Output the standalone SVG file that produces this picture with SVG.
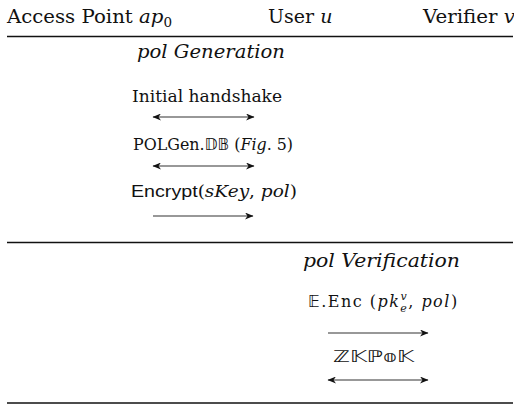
<svg xmlns="http://www.w3.org/2000/svg" width="514" height="409" viewBox="0 0 514 409">
<style>
  .hdr { font-family: "DejaVu Serif", "Liberation Serif", serif; font-size: 19px; fill: #111; }
  .sec { font-family: "DejaVu Serif", "Liberation Serif", serif; font-size: 19px; font-style: italic; fill: #111; }
  .msg { font-family: "DejaVu Serif", "Liberation Serif", serif; font-size: 16px; fill: #111; }
  .it { font-style: italic; }
  .sans { font-family: "Liberation Sans", Arial, sans-serif; font-size: 17px; }
  .bb { font-family: "DejaVu Sans", "DejaVu Serif", sans-serif; }
  .rule { stroke: #111; stroke-width: 1.4; }
  .arr { stroke: #333; stroke-width: 1.1; fill: none; }
</style>
<defs>
  <marker id="ah" markerWidth="9" markerHeight="7" refX="8" refY="3.5" orient="auto-start-reverse" markerUnits="userSpaceOnUse">
    <path d="M0,0 L8.5,3.5 L0,7 L2.5,3.5 z" fill="#111"/>
  </marker>
</defs>

<g id="header">
  <text id="ap0" class="hdr" x="7" y="23" textLength="165" lengthAdjust="spacingAndGlyphs">Access Point <tspan class="it">ap</tspan><tspan font-size="13" dy="4">0</tspan></text>
  <text id="user" class="hdr" x="268" y="23" font-size="18">User <tspan class="it">u</tspan></text>
  <text id="verifier" class="hdr" x="423" y="23" textLength="92" lengthAdjust="spacingAndGlyphs">Verifier <tspan class="it">v</tspan></text>
</g>

<g id="rules">
  <line class="rule" x1="7" y1="36.5" x2="513" y2="36.5"/>
  <line class="rule" x1="7" y1="242.5" x2="513" y2="242.5"/>
  <line class="rule" x1="7" y1="403" x2="513" y2="403"/>
</g>

<g id="pol-generation">
  <text class="sec" x="137" y="58" textLength="148" lengthAdjust="spacingAndGlyphs">pol Generation</text>
  <text id="msg-handshake" class="msg" x="132" y="102" textLength="150" lengthAdjust="spacingAndGlyphs">Initial handshake</text>
  <text id="msg-polgen" class="msg" x="133" y="150" textLength="160" lengthAdjust="spacingAndGlyphs">POLGen.<tspan class="bb">𝔻𝔹</tspan> (<tspan class="it">Fig</tspan>. 5)</text>
  <text id="msg-encrypt" class="msg" x="131" y="197" textLength="166" lengthAdjust="spacingAndGlyphs"><tspan class="sans">Encrypt</tspan>(<tspan class="it">sKey</tspan>, <tspan class="it">pol</tspan>)</text>
</g>

<g id="pol-verification">
  <text class="sec" x="303" y="267" textLength="157" lengthAdjust="spacingAndGlyphs">pol Verification</text>
  <text id="msg-enc" class="msg" x="308" y="307" font-size="17" letter-spacing="1.5"><tspan class="bb">𝔼</tspan>.Enc (<tspan class="it">pk</tspan><tspan class="it" font-size="11" dy="-7">v</tspan><tspan class="it" font-size="11" dx="-8" dy="12">e</tspan><tspan dy="-5">, </tspan><tspan class="it">pol</tspan>)</text>
  <text id="msg-zkpok" class="msg" x="333" y="362" textLength="81" lengthAdjust="spacingAndGlyphs"><tspan class="bb">ℤ𝕂ℙ𝕠𝕂</tspan></text>
</g>

<g id="connectors">
  <line class="arr" x1="153" y1="117" x2="254" y2="117" marker-start="url(#ah)" marker-end="url(#ah)"/>
  <line class="arr" x1="153" y1="166" x2="254" y2="166" marker-start="url(#ah)" marker-end="url(#ah)"/>
  <line class="arr" x1="153" y1="216" x2="253" y2="216" marker-end="url(#ah)"/>
  <line class="arr" x1="328" y1="333" x2="428" y2="333" marker-end="url(#ah)"/>
  <line class="arr" x1="328" y1="380" x2="428" y2="380" marker-start="url(#ah)" marker-end="url(#ah)"/>
</g>
</svg>
